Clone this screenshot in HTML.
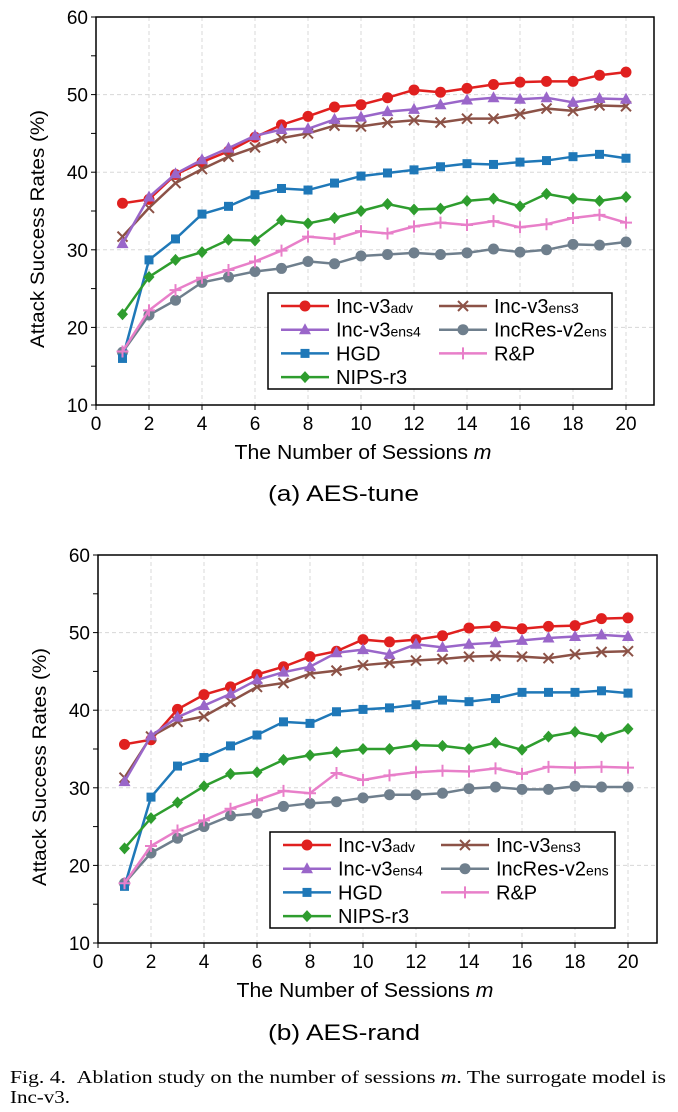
<!DOCTYPE html>
<html><head><meta charset="utf-8"><style>
body{margin:0;background:#fff;width:678px;height:1112px;overflow:hidden;font-family:"Liberation Sans",sans-serif}
svg{position:absolute;left:0;top:0}
</style></head><body>
<svg id="fig" width="678" height="1112"></svg>
<script>
const sessions=[1,2,3,4,5,6,7,8,9,10,11,12,13,14,15,16,17,18,19,20];
const xTicks=[0,2,4,6,8,10,12,14,16,18,20];
const yTicks=[10,20,30,40,50,60];
const seriesNames=["Inc-v3adv","Inc-v3ens3","Inc-v3ens4","IncRes-v2ens","HGD","R&P","NIPS-r3"];
const tuneAdv=[36.0,36.5,39.7,41.3,42.7,44.5,46.1,47.2,48.4,48.7,49.6,50.6,50.3,50.8,51.3,51.6,51.7,51.7,52.5,52.9];
const tuneEns3=[31.7,35.4,38.6,40.4,42.0,43.2,44.4,45.0,46.0,45.9,46.4,46.7,46.4,46.9,46.9,47.5,48.2,47.9,48.6,48.5];
const tuneEns4=[30.8,36.8,39.8,41.6,43.1,44.7,45.5,45.6,46.8,47.1,47.8,48.1,48.7,49.3,49.6,49.4,49.6,49.0,49.5,49.4];
const tuneIncRes=[16.8,21.6,23.5,25.8,26.5,27.2,27.6,28.5,28.2,29.2,29.4,29.6,29.4,29.6,30.1,29.7,30.0,30.7,30.6,31.0];
const tuneHGD=[16.0,28.7,31.4,34.6,35.6,37.1,37.9,37.7,38.6,39.5,39.9,40.3,40.7,41.1,41.0,41.3,41.5,42.0,42.3,41.8];
const tuneRP=[16.9,22.2,24.8,26.4,27.4,28.5,29.9,31.7,31.4,32.4,32.1,33.0,33.5,33.2,33.7,32.9,33.3,34.1,34.5,33.5];
const tuneNIPS=[21.7,26.5,28.7,29.7,31.3,31.2,33.8,33.4,34.1,35.0,35.9,35.2,35.3,36.3,36.6,35.6,37.2,36.6,36.3,36.8];
const randAdv=[35.6,36.2,40.1,42.0,43.0,44.6,45.6,46.9,47.6,49.1,48.8,49.1,49.6,50.6,50.8,50.5,50.8,50.9,51.8,51.9];
const randEns3=[31.3,36.6,38.5,39.2,41.1,43.0,43.5,44.7,45.1,45.8,46.1,46.4,46.6,46.9,47.0,46.9,46.7,47.2,47.5,47.6];
const randEns4=[30.8,36.7,39.1,40.6,42.1,43.9,44.9,45.6,47.4,47.8,47.2,48.5,48.1,48.5,48.7,49.0,49.3,49.5,49.7,49.5];
const randIncRes=[17.7,21.6,23.5,25.0,26.4,26.7,27.6,28.0,28.2,28.7,29.1,29.1,29.3,29.9,30.1,29.8,29.8,30.2,30.1,30.1];
const randHGD=[17.3,28.8,32.8,33.9,35.4,36.8,38.5,38.3,39.8,40.1,40.3,40.7,41.3,41.1,41.5,42.3,42.3,42.3,42.5,42.2];
const randRP=[17.7,22.5,24.5,25.8,27.3,28.4,29.6,29.3,31.9,31.0,31.6,32.0,32.2,32.1,32.5,31.8,32.7,32.6,32.7,32.6];
const randNIPS=[22.2,26.1,28.1,30.2,31.8,32.0,33.6,34.2,34.6,35.0,35.0,35.5,35.4,35.0,35.8,34.9,36.6,37.2,36.5,37.6];

const NS="http://www.w3.org/2000/svg";
const svg=document.getElementById('fig');
function mk(tag,attrs,parent){const e=document.createElementNS(NS,tag);for(const k in attrs)e.setAttribute(k,attrs[k]);(parent||svg).appendChild(e);return e;}
const styles=[
 {c:"#e0201f",m:"circle"},{c:"#8c5247",m:"x"},{c:"#9a66c9",m:"tri"},{c:"#6f7f8d",m:"circle"},
 {c:"#1f78b8",m:"square"},{c:"#e87fc9",m:"plus"},{c:"#2e9d2e",m:"diamond"}];
function marker(g,type,x,y,c){
 let e;
 if(type==="circle")e=mk('circle',{cx:x,cy:y,r:5.5,fill:c},g);
 else if(type==="square")e=mk('rect',{x:x-4.5,y:y-4.5,width:9,height:9,fill:c},g);
 else if(type==="tri")e=mk('polygon',{points:`${x},${y-6.5} ${x+6},${y+4.5} ${x-6},${y+4.5}`,fill:c},g);
 else if(type==="diamond")e=mk('polygon',{points:`${x},${y-6} ${x+5.5},${y} ${x},${y+6} ${x-5.5},${y}`,fill:c},g);
 else if(type==="x")e=mk('path',{d:`M${x-5} ${y-5}L${x+5} ${y+5}M${x+5} ${y-5}L${x-5} ${y+5}`,stroke:c,'stroke-width':2,fill:'none'},g);
 else e=mk('path',{d:`M${x-6} ${y}L${x+6} ${y}M${x} ${y-6}L${x} ${y+6}`,stroke:c,'stroke-width':2,fill:'none'},g);
 
 
}
function chart(name,L,R,T,B,X20,series,leg){
 const g=mk('g',{});
 
 
 const xs=v=>L+(X20-L)*v/20, ys=v=>B-(B-T)*(v-10)/50;
 xTicks.forEach(t=>{if(t>0&&t<=20)mk('line',{x1:xs(t),x2:xs(t),y1:T,y2:B,stroke:'#d8d8d8','stroke-dasharray':'4,3'},g);});
 yTicks.forEach(t=>{if(t>10&&t<60)mk('line',{x1:L,x2:R,y1:ys(t),y2:ys(t),stroke:'#d8d8d8','stroke-dasharray':'4,3'},g);});
 const ax=mk('rect',{x:L,y:T,width:R-L,height:B-T,fill:'none',stroke:'#000','stroke-width':1.5},g);
 
 xTicks.forEach(t=>{mk('line',{x1:xs(t),x2:xs(t),y1:B,y2:B+5,stroke:'#000'},g);
  const tx=mk('text',{x:xs(t),y:B+25,'text-anchor':'middle','font-size':19},g);tx.textContent=t;
  });
 for(let v=10;v<=60;v+=5)mk('line',{x1:L-5,x2:L,y1:ys(v),y2:ys(v),stroke:'#000'},g);
 yTicks.forEach(t=>{const tx=mk('text',{x:L-8,y:ys(t)+7,'text-anchor':'end','font-size':19},g);tx.textContent=t;
  });
 const yt=mk('text',{x:0,y:0,transform:`translate(${L-52},${(T+B)/2+18}) rotate(-90)`,'text-anchor':'middle','font-size':19,textLength:238,lengthAdjust:'spacingAndGlyphs'},g);
 yt.textContent='Attack Success Rates (%)';
 const xt=mk('text',{x:(L+X20)/2+2,y:B+54,'text-anchor':'middle','font-size':20,textLength:257,lengthAdjust:'spacingAndGlyphs'},g);
 xt.innerHTML='The Number of Sessions <tspan font-style="italic">m</tspan>';
 
 series.forEach((s,i)=>{
  const st=styles[i];
  const p=mk('polyline',{points:sessions.map((m,j)=>xs(m)+','+ys(s[j])).join(' '),fill:'none',stroke:st.c,'stroke-width':2.5},g);
  
  sessions.forEach((m,j)=>marker(g,st.m,xs(m),ys(s[j]),st.c));
 });
 const lg=mk('g',{},g);
 
 
 mk('rect',{x:leg[0],y:leg[1],width:leg[2]-leg[0],height:leg[3]-leg[1],fill:'#fff',stroke:'#000','stroke-width':1.5},lg);
 const labels=[['Inc-v3','adv'],['Inc-v3','ens3'],['Inc-v3','ens4'],['IncRes-v2','ens'],['HGD',''],['R&P',''],['NIPS-r3','']];
 labels.forEach((lb,i)=>{
  const col=i%2,row=Math.floor(i/2);
  const x0=leg[0]+13+col*158, y0=leg[1]+13+row*23.7;
  mk('line',{x1:x0,x2:x0+48,y1:y0,y2:y0,stroke:styles[i].c,'stroke-width':2.5},lg);
  marker(lg,styles[i].m,x0+24,y0,styles[i].c);
  const t=mk('text',{x:x0+55,y:y0+7,'font-size':20},lg);
  t.textContent=lb[0];
  if(lb[1]){const s=mk('tspan',{'font-size':14},t);s.textContent=lb[1];}
  
 });
}
chart('chart-aes-tune',96,654,17,405,626,[tuneAdv,tuneEns3,tuneEns4,tuneIncRes,tuneHGD,tuneRP,tuneNIPS],[268,293,612,389]);
chart('chart-aes-rand',98,657,555,943,628,[randAdv,randEns3,randEns4,randIncRes,randHGD,randRP,randNIPS],[270,832,615,928]);
function txt(x,y,s,size,name,extra){const t=mk('text',Object.assign({x:x,y:y,'font-size':size},extra||{}));t.textContent=s;
 return t;}
txt(268,501,'(a) AES-tune',22,'subcaption-a',{textLength:151,lengthAdjust:'spacingAndGlyphs'});
txt(268,1040,'(b) AES-rand',22,'subcaption-b',{textLength:152,lengthAdjust:'spacingAndGlyphs'});
const cap=txt(10,1083,'',18,'figure-caption',{'font-family':'Liberation Serif, serif',textLength:656,lengthAdjust:'spacingAndGlyphs'});
cap.innerHTML='Fig. 4.&#160;&#160;Ablation study on the number of sessions <tspan font-style="italic">m</tspan>. The surrogate model is';
txt(10,1103,'Inc-v3.',18,'figure-caption-line2',{'font-family':'Liberation Serif, serif',textLength:60,lengthAdjust:'spacingAndGlyphs'});
</script>
</body></html>
